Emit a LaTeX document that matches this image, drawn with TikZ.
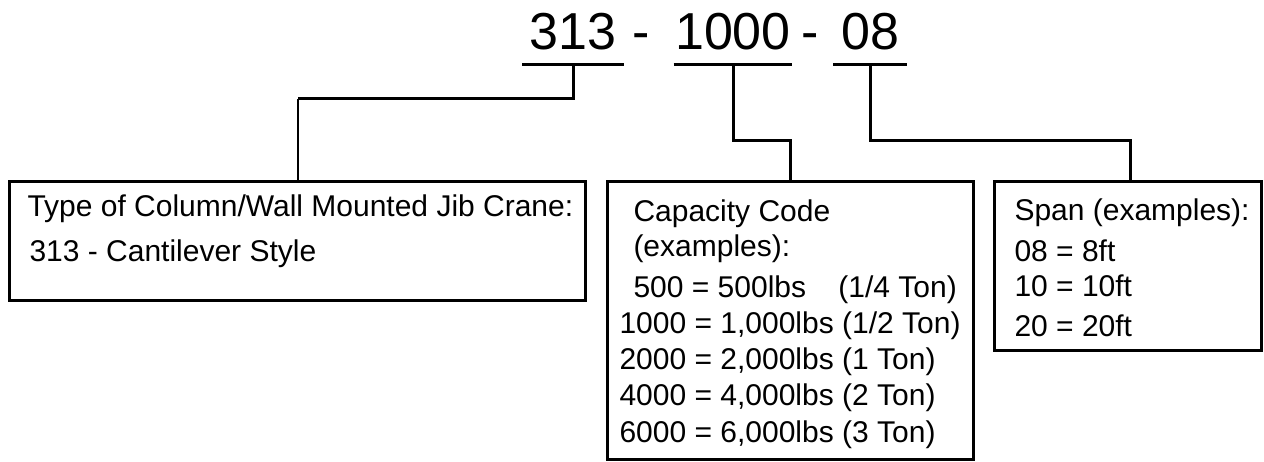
\documentclass[tikz,border=0pt]{standalone}
\usepackage{fontspec}
\setmainfont{Liberation Sans}
\usetikzlibrary{positioning}

\begin{document}
\begin{tikzpicture}
[x=1pt, y=-1pt, draw=black, line width=3pt,
code/.style={font=\fontsize{52}{60}\selectfont, inner xsep=0pt, inner ysep=12pt, anchor=base},
joiner/.style={font=\fontsize{52}{60}\selectfont, inner sep=0pt, anchor=base},
box/.style={draw, line width=3pt, inner sep=0pt, outer sep=0pt, anchor=north west},
txt/.style={font=\fontsize{30}{36}\selectfont, inner sep=0pt, anchor=base west},
link/.style={draw, line width=3pt},
thinlink/.style={draw, line width=1.2pt}]

\useasboundingbox (0,0) rectangle (1264,462);

\node[code, minimum width=99pt] (c313) at (573,50) {313};
\node[joiner] (j1) at (641,50) {-};
\node[code, minimum width=107pt] (c1000) at (733,50) {1000};
\node[joiner] (j2) at (810,50) {-};
\node[code, minimum width=71pt] (c08) at (870,50) {08};

\draw[link] (c313.south west) -- (c313.south east);
\draw[link] (c1000.south west) -- (c1000.south east);
\draw[link] (c08.south west) -- (c08.south east);

\node[box, minimum width=576pt, minimum height=119pt] (type) at (9.5,181.5) {};
\node[box, minimum width=366pt, minimum height=278pt] (cap) at (607.5,181.5) {};
\node[box, minimum width=267pt, minimum height=169pt] (span) at (994.5,181.5) {};

\coordinate (k313) at (298,99);
\coordinate (k1000) at (790,141);
\coordinate (k08) at (1130,141);

\draw[link] (c313.south) |- (k313);
\draw[thinlink] (k313) -- (k313 |- type.north);
\draw[link] (c1000.south) |- (k1000) -- (k1000 |- cap.north);
\draw[link] (c08.south) |- (k08) -- (k08 |- span.north);

\node[txt] (type1) at (26,217) {Type of Column/Wall Mounted Jib Crane:};
\node[txt] (type2) at (28,262) {313 - Cantilever Style};

\node[txt] (cap1) at (632,222) {Capacity Code};
\node[txt] (cap2) at (632,257) {(examples):};
\node[txt] (cap3) at (632,298) {500 = 500lbs\hspace{24pt} (1/4 Ton)};
\node[txt] (cap4) at (618,334) {1000 = 1,000lbs (1/2 Ton)};
\node[txt] (cap5) at (618,370) {2000 = 2,000lbs (1 Ton)};
\node[txt] (cap6) at (618,405) {4000 = 4,000lbs (2 Ton)};
\node[txt] (cap7) at (618,442) {6000 = 6,000lbs (3 Ton)};

\node[txt] (span1) at (1013,221) {Span (examples):};
\node[txt] (span2) at (1013,262) {08 = 8ft};
\node[txt] (span3) at (1013,297) {10 = 10ft};
\node[txt] (span4) at (1013,337) {20 = 20ft};
\end{tikzpicture}
\end{document}
